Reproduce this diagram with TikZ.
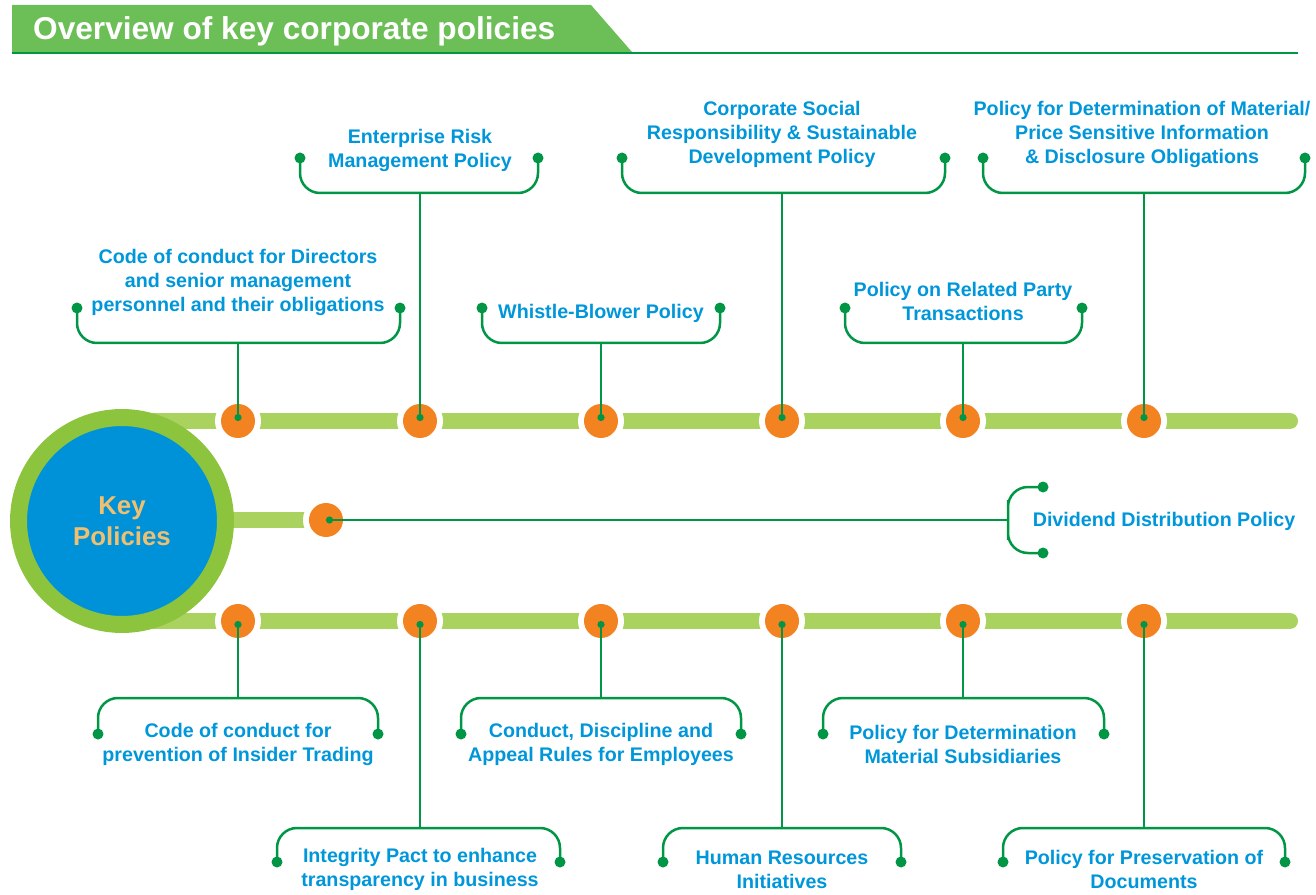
\documentclass[tikz,border=0pt]{standalone}
\usepackage{fontspec}
\setmainfont{Liberation Sans}
\usepackage{tikz}
\usetikzlibrary{arrows.meta, positioning}
\definecolor{hdrGreen}{RGB}{108,190,86}
\definecolor{lineGreen}{RGB}{0,150,70}
\definecolor{barGreen}{RGB}{170,210,95}
\definecolor{ringGreen}{RGB}{141,196,62}
\definecolor{keyBlue}{RGB}{0,146,216}
\definecolor{txtBlue}{RGB}{0,150,218}
\definecolor{hubOrange}{RGB}{243,130,33}
\definecolor{keyText}{RGB}{240,192,112}

\begin{document}
\begin{tikzpicture}[
    x=0.02cm, y=-0.02cm,
    bar/.style={line width=0.32cm, barGreen, line cap=round},
    hub/.style={circle, fill=hubOrange, minimum size=0.68cm, inner sep=0pt, preaction={draw=white, line width=0.24cm}},
    tip/.style={circle, fill=lineGreen, minimum size=0.22cm, inner sep=0pt},
    link/.style={draw=lineGreen, line width=0.05cm},
    stem/.style={link, {Circle[length=0.14cm]}-},
    brace/.style={link, rounded corners=0.4cm},
    ptext/.style={text=txtBlue, align=center, font=\fontsize{11.2}{13.6}\selectfont\bfseries, yshift=-0.05cm},
    every node/.style={font=\small}
]
\useasboundingbox (0,0) rectangle (1316,895);

% Title banner
\fill[hdrGreen] (12,5) -- (591,5) -- (632,52) -- (12,52) -- cycle;
\draw[link] (12,53) -- (1298,53);
\node[anchor=west, text=white, font=\fontsize{18}{20}\selectfont\bfseries] (title) at (27,31) {Overview of key corporate policies};

% Bars
\draw[bar] (130,421) -- (1290,421);
\draw[bar] (130,621) -- (1290,621);
\draw[bar] (130,520) -- (326,520);

% Key circle
\node[circle, fill=keyBlue, draw=ringGreen, line width=0.34cm, minimum size=4.14cm, inner sep=0pt, text=keyText, align=center, font=\fontsize{14.7}{17.6}\selectfont\bfseries] (key) at (122,521) {Key\\Policies};

% Hubs on the bars
\node[hub] (p1) at (238,421) {};
\node[hub] (p2) at (420,421) {};
\node[hub] (p3) at (601,421) {};
\node[hub] (p4) at (782,421) {};
\node[hub] (p5) at (963,421) {};
\node[hub] (p6) at (1144,421) {};
\node[hub] (pm) at (326,520) {};
\node[hub] (q1) at (238,621) {};
\node[hub] (q2) at (420,621) {};
\node[hub] (q3) at (601,621) {};
\node[hub] (q4) at (782,621) {};
\node[hub] (q5) at (963,621) {};
\node[hub] (q6) at (1144,621) {};

% Top policies
\coordinate (j1) at (238,343);
\node[tip] (l1) at (77,308) {};
\node[tip] (r1) at (400,308) {};
\node[ptext] (t1) at (238,280) {Code of conduct for Directors\\and senior management\\personnel and their obligations};
\draw[stem] (p1.center) -- (j1);
\draw[brace] (l1.center) |- (j1) -| (r1.center);

\coordinate (j2) at (420,193);
\node[tip] (l2) at (300,158) {};
\node[tip] (r2) at (538,158) {};
\node[ptext] (t2) at (420,148) {Enterprise Risk\\Management Policy};
\draw[stem] (p2.center) -- (j2);
\draw[brace] (l2.center) |- (j2) -| (r2.center);

\coordinate (j3) at (601,343);
\node[tip] (l3) at (482,308) {};
\node[tip] (r3) at (720,308) {};
\node[ptext] (t3) at (601,311) {Whistle-Blower Policy};
\draw[stem] (p3.center) -- (j3);
\draw[brace] (l3.center) |- (j3) -| (r3.center);

\coordinate (j4) at (782,193);
\node[tip] (l4) at (622,158) {};
\node[tip] (r4) at (945,158) {};
\node[ptext] (t4) at (782,132) {Corporate Social\\Responsibility \& Sustainable\\Development Policy};
\draw[stem] (p4.center) -- (j4);
\draw[brace] (l4.center) |- (j4) -| (r4.center);

\coordinate (j5) at (963,343);
\node[tip] (l5) at (845,308) {};
\node[tip] (r5) at (1082,308) {};
\node[ptext] (t5) at (963,299) {Policy on Related Party\\Transactions};
\draw[stem] (p5.center) -- (j5);
\draw[brace] (l5.center) |- (j5) -| (r5.center);

\coordinate (j6) at (1144,193);
\node[tip] (l6) at (983,158) {};
\node[tip] (r6) at (1305,158) {};
\node[ptext] (t6) at (1142,132) {Policy for Determination of Material/\\Price Sensitive Information\\\& Disclosure Obligations};
\draw[stem] (p6.center) -- (j6);
\draw[brace] (l6.center) |- (j6) -| (r6.center);

% Middle policy
\coordinate (jm) at (1008,520);
\node[tip] (lm) at (1043,487) {};
\node[tip] (rm) at (1043,553) {};
\node[ptext] (tm) at (1164,519) {Dividend Distribution Policy};
\draw[stem] (pm.center) -- (jm);
\draw[brace] (lm.center) -| (jm) |- (rm.center);

% Bottom policies
\coordinate (k1) at (238,698);
\node[tip] (m1) at (98,734) {};
\node[tip] (n1) at (378,734) {};
\node[ptext] (u1) at (238,742) {Code of conduct for\\prevention of Insider Trading};
\draw[stem] (q1.center) -- (k1);
\draw[brace] (m1.center) |- (k1) -| (n1.center);

\coordinate (k2) at (420,828);
\node[tip] (m2) at (277,862) {};
\node[tip] (n2) at (560,862) {};
\node[ptext] (u2) at (420,867) {Integrity Pact to enhance\\transparency in business};
\draw[stem] (q2.center) -- (k2);
\draw[brace] (m2.center) |- (k2) -| (n2.center);

\coordinate (k3) at (601,698);
\node[tip] (m3) at (461,734) {};
\node[tip] (n3) at (741,734) {};
\node[ptext] (u3) at (601,742) {Conduct, Discipline and\\Appeal Rules for Employees};
\draw[stem] (q3.center) -- (k3);
\draw[brace] (m3.center) |- (k3) -| (n3.center);

\coordinate (k4) at (782,828);
\node[tip] (m4) at (663,862) {};
\node[tip] (n4) at (901,862) {};
\node[ptext] (u4) at (782,867) {Human Resources\\Initiatives};
\draw[stem] (q4.center) -- (k4);
\draw[brace] (m4.center) |- (k4) -| (n4.center);

\coordinate (k5) at (963,698);
\node[tip] (m5) at (823,734) {};
\node[tip] (n5) at (1104,734) {};
\node[ptext] (u5) at (963,742) {Policy for Determination\\Material Subsidiaries};
\draw[stem] (q5.center) -- (k5);
\draw[brace] (m5.center) |- (k5) -| (n5.center);

\coordinate (k6) at (1144,828);
\node[tip] (m6) at (1003,862) {};
\node[tip] (n6) at (1285,862) {};
\node[ptext] (u6) at (1144,867) {Policy for Preservation of\\Documents};
\draw[stem] (q6.center) -- (k6);
\draw[brace] (m6.center) |- (k6) -| (n6.center);

\end{tikzpicture}
\end{document}
